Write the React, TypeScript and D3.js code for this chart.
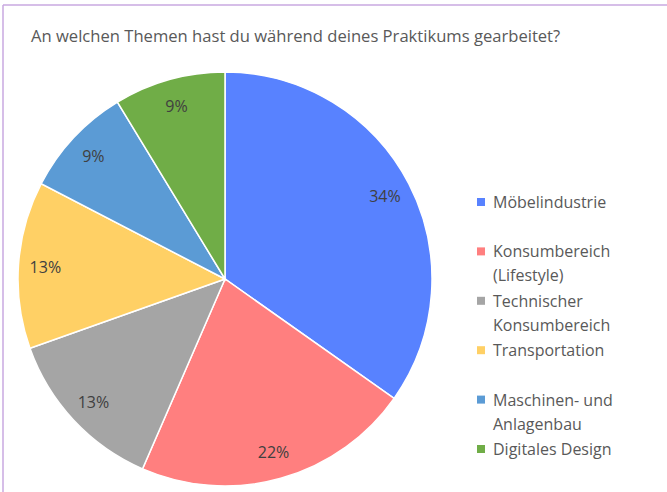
import React from "react";
import * as d3 from "d3";

const categories = [
  ["Möbelindustrie"],
  ["Konsumbereich", "(Lifestyle)"],
  ["Technischer", "Konsumbereich"],
  ["Transportation"],
  ["Maschinen- und", "Anlagenbau"],
  ["Digitales Design"],
];
const values = [8, 5, 3, 3, 2, 2];
const percentLabels = ["34%", "22%", "13%", "13%", "9%", "9%"];
const colors = ["#5882FF", "#FF7F7F", "#A5A5A5", "#FFD065", "#5B9BD5", "#70AD47"];
const title = "An welchen Themen hast du während deines Praktikums gearbeitet?";

export default function App() {
  const W = 667, H = 492;
  const cx = 225, cy = 279, r = 207;
  const pie = d3.pie<number>().sort(null).value((d) => d);
  const arcs = pie(values);
  const arc = d3.arc<d3.PieArcDatum<number>>().innerRadius(0).outerRadius(r);
  const labelArc = d3.arc<d3.PieArcDatum<number>>().innerRadius(r * 0.87).outerRadius(r * 0.87);
  const font = "'Open Sans', sans-serif";
  const legendY = d3.scaleLinear().domain([0, 5]).range([202, 449]);
  return (
    <svg width={W} height={H} style={{ position: "absolute", left: 0, top: 0 }}>
      <rect x={0} y={0} width={W} height={H} fill="#ffffff" />
      <line x1={3} y1={5} x2={W} y2={5} stroke="#C8A8E0" strokeWidth={1.5} />
      <line x1={3} y1={5} x2={3} y2={H} stroke="#C8A8E0" strokeWidth={1.5} />
      <text x={31} y={42} fontFamily={font} fontSize={16.6} fill="#595959">{title}</text>
      <g transform={`translate(${cx},${cy})`}>
        {arcs.map((a, i) => (
          <path key={i} d={arc(a) || ""} fill={colors[i]} stroke="#ffffff" strokeWidth={1.5} />
        ))}
        {arcs.map((a, i) => {
          const [x, y] = labelArc.centroid(a);
          return (
            <text key={i} x={x} y={y} textAnchor="middle" dominantBaseline="central"
              fontFamily={font} fontSize={16} fill="#404040">{percentLabels[i]}</text>
          );
        })}
      </g>
      {categories.map((lines, i) => {
        const y = legendY(i);
        return (
          <g key={i}>
            <rect x={477} y={y - 4} width={8} height={8} fill={colors[i]} />
            {lines.map((t, j) => (
              <text key={j} x={493} y={y + j * 24} dominantBaseline="central"
                fontFamily={font} fontSize={16} fill="#595959">{t}</text>
            ))}
          </g>
        );
      })}
    </svg>
  );
}
